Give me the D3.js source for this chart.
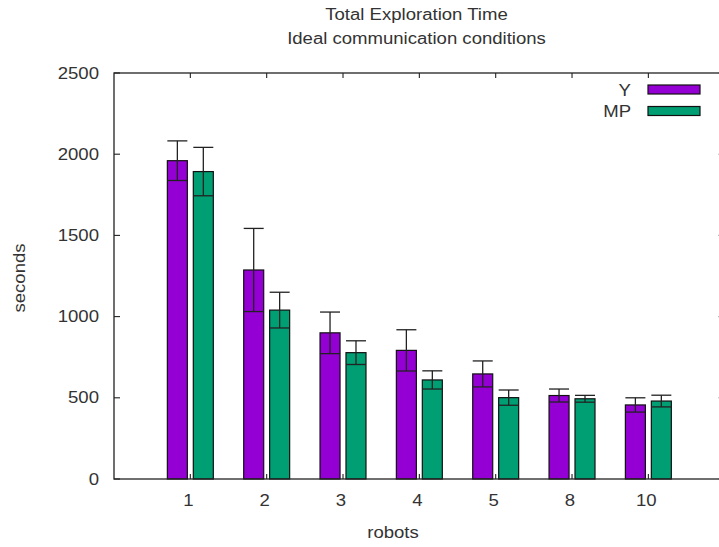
<!DOCTYPE html>
<html>
<head>
<meta charset="utf-8">
<script src="https://cdn.jsdelivr.net/npm/d3@7"></script>
<style>
  html, body { margin: 0; padding: 0; background: #fff; }
  svg { display: block; }
  text { font-family: "Liberation Sans", Arial, sans-serif; fill: #333; }
</style>
</head>
<body>
<script>
// Total exploration time per number of robots, two coordination strategies
const categories = ["1", "2", "3", "4", "5", "8", "10"];
const seriesNames = ["Y", "MP"];
const yMeans  = [1960, 1287, 900, 792, 647, 514, 456];
const yErrors = [122, 256, 128, 127, 80, 40, 44];
const mpMeans  = [1893, 1040, 778, 610, 501, 494, 480];
const mpErrors = [149, 110, 73, 56, 47, 21, 36];
const yTicks = [0, 500, 1000, 1500, 2000, 2500];
const colors = ["#9400D3", "#009E73"];

const W = 719, H = 547;
const svg = d3.select("body").append("svg").attr("width", W).attr("height", H);

// Plot frame (right edge runs slightly past the canvas)
const plotLeft = 114, plotRight = 724.7, plotTop = 73, plotBottom = 479;
const x = d3.scaleLinear().domain([-1, 7]).range([plotLeft, plotRight]);
const y = d3.scaleLinear().domain([0, 2500]).range([plotBottom, plotTop]);

const barW = 0.262;     // bar width in category units
const barOff = 0.17;    // bar centre offset from the category tick
const fontPx = 16, stretch = 1.16;

function label(txt, px, py, anchor, rotate) {
  return svg.append("text")
    .attr("transform", `translate(${px},${py})` + (rotate ? ` rotate(${rotate})` : "") + ` scale(${stretch},1)`)
    .attr("text-anchor", anchor)
    .attr("font-size", fontPx)
    .text(txt);
}

const series = [
  { name: seriesNames[0], means: yMeans, errs: yErrors, color: colors[0], off: -barOff },
  { name: seriesNames[1], means: mpMeans, errs: mpErrors, color: colors[1], off: barOff }
];

// Bars
series.forEach(s => {
  svg.append("g").selectAll("rect")
    .data(s.means)
    .join("rect")
    .attr("x", (d, i) => x(i + s.off - barW / 2))
    .attr("width", x(barW) - x(0))
    .attr("y", d => y(d))
    .attr("height", d => y(0) - y(d))
    .attr("fill", s.color)
    .attr("stroke", "#111")
    .attr("stroke-width", 1.2);
});

// Error bars with caps spanning the bar width
series.forEach(s => {
  const g = svg.append("g").attr("stroke", "#222").attr("stroke-width", 1.3).attr("fill", "none");
  s.means.forEach((m, i) => {
    const cx = x(i + s.off);
    const x0 = x(i + s.off - barW / 2), x1 = x(i + s.off + barW / 2);
    const lo = y(m - s.errs[i]), hi = y(m + s.errs[i]);
    g.append("line").attr("x1", cx).attr("x2", cx).attr("y1", lo).attr("y2", hi);
    g.append("line").attr("x1", x0).attr("x2", x1).attr("y1", hi).attr("y2", hi);
    g.append("line").attr("x1", x0).attr("x2", x1).attr("y1", lo).attr("y2", lo);
  });
});

// Frame
svg.append("rect")
  .attr("x", plotLeft).attr("y", plotTop)
  .attr("width", plotRight - plotLeft).attr("height", plotBottom - plotTop)
  .attr("fill", "none").attr("stroke", "#222").attr("stroke-width", 1.3);

// Ticks (inward, mirrored on opposite sides)
const tickLen = 6;
const tg = svg.append("g").attr("stroke", "#222").attr("stroke-width", 1.1);
yTicks.forEach(v => {
  tg.append("line").attr("x1", plotLeft).attr("x2", plotLeft + tickLen).attr("y1", y(v)).attr("y2", y(v));
  tg.append("line").attr("x1", plotRight).attr("x2", plotRight - tickLen).attr("y1", y(v)).attr("y2", y(v));
});
categories.forEach((c, i) => {
  tg.append("line").attr("x1", x(i)).attr("x2", x(i)).attr("y1", plotBottom).attr("y2", plotBottom - 5);
  tg.append("line").attr("x1", x(i)).attr("x2", x(i)).attr("y1", plotTop).attr("y2", plotTop + 5);
});

// Tick labels
yTicks.forEach(v => label(String(v), 99, y(v) + 5.5, "end"));
categories.forEach((c, i) => label(c, x(i) - 2, 506, "middle"));

// Axis titles
label("robots", 393, 538, "middle");
label("seconds", 25, 278, "middle", -90);

// Chart title
label("Total Exploration Time", 416.5, 19.5, "middle");
label("Ideal communication conditions", 416.5, 44, "middle");

// Legend
series.forEach((s, k) => {
  const cy = 89.5 + k * 21.5;
  label(s.name, 631, cy + 6, "end");
  svg.append("rect")
    .attr("x", 648).attr("y", cy - 4.5)
    .attr("width", 52).attr("height", 9)
    .attr("fill", s.color).attr("stroke", "#111").attr("stroke-width", 1.2);
});
</script>
</body>
</html>
